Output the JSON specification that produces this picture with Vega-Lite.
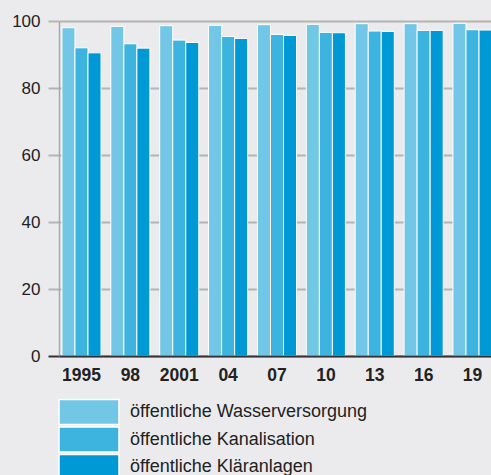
{
  "$schema": "https://vega.github.io/schema/vega-lite/v6.json",
  "width": 436,
  "height": 335,
  "autosize": "none",
  "padding": {"left": 59, "top": 21, "right": 0, "bottom": 119},
  "background": "#ebebed",
  "config": {
    "view": {"stroke": null},
    "font": "Liberation Sans"
  },
  "data": {
    "values": [
      {"year": "1995", "series": "öffentliche Wasserversorgung", "value": 98.0},
      {"year": "1995", "series": "öffentliche Kanalisation", "value": 92.0},
      {"year": "1995", "series": "öffentliche Kläranlagen", "value": 90.5},
      {"year": "98", "series": "öffentliche Wasserversorgung", "value": 98.4},
      {"year": "98", "series": "öffentliche Kanalisation", "value": 93.2},
      {"year": "98", "series": "öffentliche Kläranlagen", "value": 91.9},
      {"year": "2001", "series": "öffentliche Wasserversorgung", "value": 98.6},
      {"year": "2001", "series": "öffentliche Kanalisation", "value": 94.3},
      {"year": "2001", "series": "öffentliche Kläranlagen", "value": 93.6},
      {"year": "04", "series": "öffentliche Wasserversorgung", "value": 98.7},
      {"year": "04", "series": "öffentliche Kanalisation", "value": 95.4},
      {"year": "04", "series": "öffentliche Kläranlagen", "value": 94.8},
      {"year": "07", "series": "öffentliche Wasserversorgung", "value": 98.9},
      {"year": "07", "series": "öffentliche Kanalisation", "value": 96.0},
      {"year": "07", "series": "öffentliche Kläranlagen", "value": 95.7},
      {"year": "10", "series": "öffentliche Wasserversorgung", "value": 99.0},
      {"year": "10", "series": "öffentliche Kanalisation", "value": 96.6},
      {"year": "10", "series": "öffentliche Kläranlagen", "value": 96.5},
      {"year": "13", "series": "öffentliche Wasserversorgung", "value": 99.2},
      {"year": "13", "series": "öffentliche Kanalisation", "value": 97.0},
      {"year": "13", "series": "öffentliche Kläranlagen", "value": 96.9},
      {"year": "16", "series": "öffentliche Wasserversorgung", "value": 99.2},
      {"year": "16", "series": "öffentliche Kanalisation", "value": 97.2},
      {"year": "16", "series": "öffentliche Kläranlagen", "value": 97.2},
      {"year": "19", "series": "öffentliche Wasserversorgung", "value": 99.3},
      {"year": "19", "series": "öffentliche Kanalisation", "value": 97.4},
      {"year": "19", "series": "öffentliche Kläranlagen", "value": 97.3}
    ]
  },
  "mark": {"type": "bar", "stroke": "white", "strokeWidth": 1},
  "encoding": {
    "x": {
      "field": "year",
      "type": "nominal",
      "sort": ["1995", "98", "2001", "04", "07", "10", "13", "16", "19"],
      "scale": {"paddingInner": 0.2, "paddingOuter": 0.06},
      "axis": {
        "title": null,
        "labelAngle": 0,
        "labelFontWeight": "bold",
        "labelFontSize": 17.5,
        "labelColor": "#222",
        "labelPadding": 10,
        "ticks": false,
        "domainColor": "#333",
        "domainWidth": 2,
        "zindex": 1
      }
    },
    "xOffset": {
      "field": "series",
      "type": "nominal",
      "sort": ["öffentliche Wasserversorgung", "öffentliche Kanalisation", "öffentliche Kläranlagen"]
    },
    "y": {
      "field": "value",
      "type": "quantitative",
      "scale": {"domain": [0, 100], "nice": false},
      "axis": {
        "title": null,
        "values": [0, 20, 40, 60, 80, 100],
        "labelFontSize": 17,
        "labelColor": "#222",
        "labelPadding": 8,
        "tickSize": 11,
        "tickWidth": 2,
        "tickColor": {"condition": {"test": "datum.value === 0", "value": "#333"}, "value": "#b4b4b4"},
        "gridColor": "#b4b4b4",
        "gridWidth": 2,
        "domainColor": "#a8a8a8",
        "domainWidth": 1.5
      }
    },
    "color": {
      "field": "series",
      "type": "nominal",
      "sort": ["öffentliche Wasserversorgung", "öffentliche Kanalisation", "öffentliche Kläranlagen"],
      "scale": {"range": ["#72c6e6", "#3db4df", "#0099d6"]},
      "legend": {
        "title": null,
        "orient": "none",
        "legendX": -1,
        "legendY": 380,
        "direction": "vertical",
        "symbolType": "M-1,-1.25H5V1.25H-1Z",
        "symbolSize": 400,
        "symbolStrokeColor": "white",
        "symbolStrokeWidth": 1.5,
        "symbolOpacity": 1,
        "labelFontSize": 18,
        "labelColor": "#222",
        "labelOffset": 50,
        "rowPadding": -4.5,
        "labelLimit": 400
      }
    }
  }
}
